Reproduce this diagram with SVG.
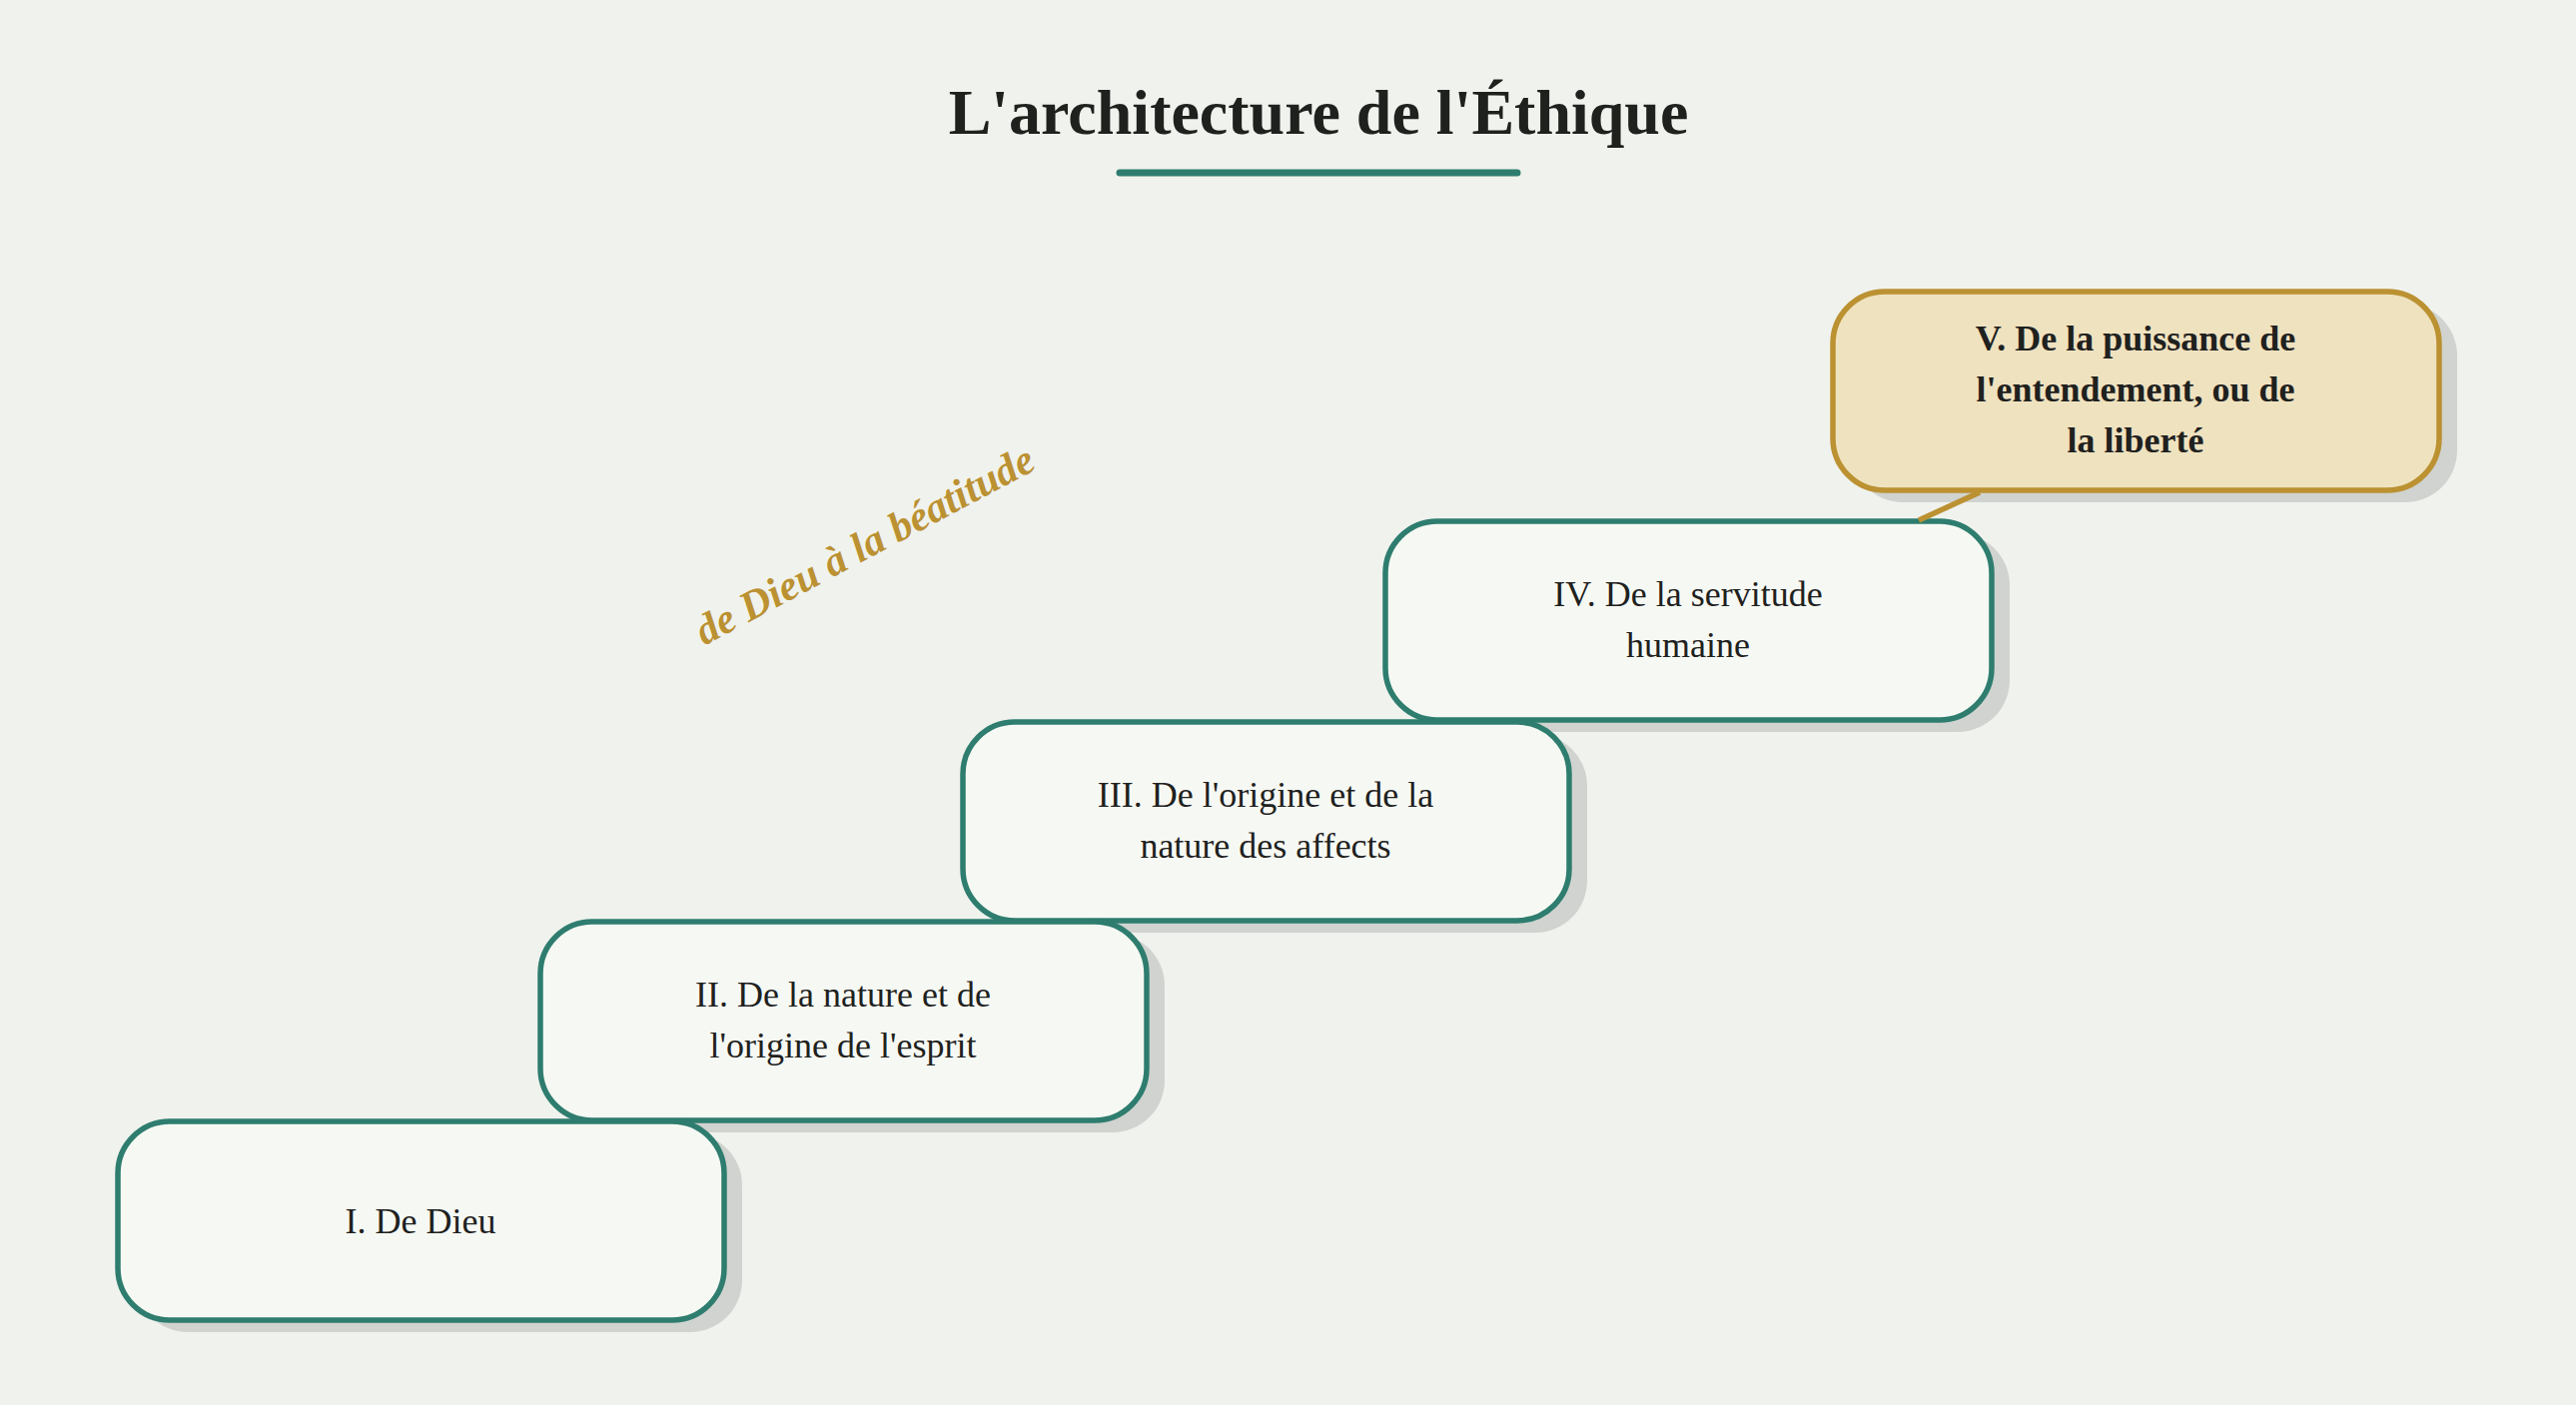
<svg xmlns="http://www.w3.org/2000/svg" width="2579" height="1407" viewBox="0 0 2579 1407">
<style>
.bg{fill:#f0f2ed}
.shadow{fill:#d0d3cf}
.box{fill:#f6f9f3;stroke:#2e7d6f;stroke-width:5.5}
.boxv{fill:#efe2bf;stroke:#bb9132;stroke-width:5.5}
.lbl{font-family:"Liberation Serif",serif;font-size:36px;fill:#1f211e;text-anchor:middle}
.lblb{font-family:"Liberation Serif",serif;font-size:36px;font-weight:bold;fill:#1f211e;text-anchor:middle}
.title{font-family:"Liberation Serif",serif;font-size:64px;font-weight:bold;fill:#1f211e;text-anchor:middle}
.diag{font-family:"Liberation Serif",serif;font-size:42px;font-weight:bold;font-style:italic;fill:#bb9132;text-anchor:middle}
.conn{stroke:#bb9132;stroke-width:5.5;fill:none}
</style>
<rect class="bg" x="0" y="0" width="2579" height="1407"/>
<g id="title">
<text class="title" x="1320" y="134">L'architecture de l'Éthique</text>
<line x1="1121" y1="173" x2="1519" y2="173" stroke="#2e7d6f" stroke-width="7" stroke-linecap="round"/>
</g>
<text id="tagline" class="diag" transform="translate(872,558) rotate(-28)">de Dieu à la béatitude</text>
<g id="node-v">
<rect class="shadow" x="1853" y="304" width="607" height="199" rx="52"/>
<rect class="boxv" x="1835" y="292" width="607" height="199" rx="52"/>
<text class="lblb" x="2138" y="351">V. De la puissance de</text>
<text class="lblb" x="2138" y="402">l'entendement, ou de</text>
<text class="lblb" x="2138" y="453">la liberté</text>
</g>
<g id="node-iv">
<rect class="shadow" x="1405" y="534" width="607" height="199" rx="52"/>
<rect class="box" x="1387" y="522" width="607" height="199" rx="52"/>
<text class="lbl" x="1690" y="607">IV. De la servitude</text>
<text class="lbl" x="1690" y="658">humaine</text>
</g>
<g id="node-iii">
<rect class="shadow" x="982" y="735" width="607" height="199" rx="52"/>
<rect class="box" x="964" y="723" width="607" height="199" rx="52"/>
<text class="lbl" x="1267" y="808">III. De l'origine et de la</text>
<text class="lbl" x="1267" y="859">nature des affects</text>
</g>
<g id="node-ii">
<rect class="shadow" x="559" y="935" width="607" height="199" rx="52"/>
<rect class="box" x="541" y="923" width="607" height="199" rx="52"/>
<text class="lbl" x="844" y="1008">II. De la nature et de</text>
<text class="lbl" x="844" y="1059">l'origine de l'esprit</text>
</g>
<g id="node-i">
<rect class="shadow" x="136" y="1135" width="607" height="199" rx="52"/>
<rect class="box" x="118" y="1123" width="607" height="199" rx="52"/>
<text class="lbl" x="421" y="1235">I. De Dieu</text>
</g>
<g id="connectors">
<line class="conn" x1="1982" y1="493" x2="1921" y2="521"/>
</g>
</svg>
